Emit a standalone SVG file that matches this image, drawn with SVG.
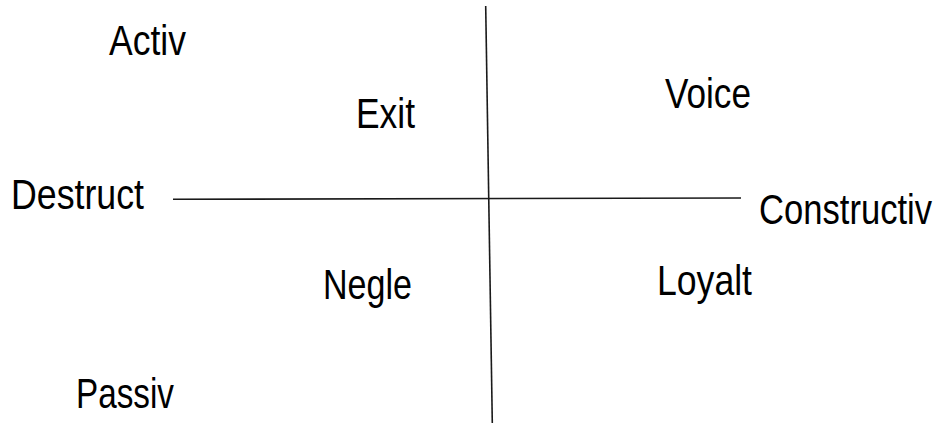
<svg xmlns="http://www.w3.org/2000/svg" width="937" height="425" viewBox="0 0 937 425">
<style>
.lbl{font-family:"Liberation Sans",Arial,sans-serif;font-size:43px;fill:#000}
.ax{stroke:#1a1a1a;stroke-width:1.6;fill:none}
</style>
<rect width="937" height="425" fill="#fff"/>
<g id="connectors">
<line class="ax" x1="485.7" y1="6" x2="492.3" y2="423"/>
<line class="ax" x1="173" y1="199.3" x2="741" y2="198"/>
</g>
<g id="activ"><text class="lbl" x="109" y="55" textLength="77" lengthAdjust="spacingAndGlyphs">Activ</text></g>
<g id="exit"><text class="lbl" x="356" y="128" textLength="59" lengthAdjust="spacingAndGlyphs">Exit</text></g>
<g id="destruct"><text class="lbl" x="11" y="209" textLength="133" lengthAdjust="spacingAndGlyphs">Destruct</text></g>
<g id="voice"><text class="lbl" x="665" y="108" textLength="86" lengthAdjust="spacingAndGlyphs">Voice</text></g>
<g id="constructiv"><text class="lbl" transform="translate(759 224) scale(0.805 1)" x="0" y="0">Constructiv</text></g>
<g id="loyalt"><text class="lbl" x="657" y="295" textLength="95" lengthAdjust="spacingAndGlyphs">Loyalt</text></g>
<g id="negle"><text class="lbl" x="323" y="298.5" textLength="89" lengthAdjust="spacingAndGlyphs">Negle</text></g>
<g id="passiv"><text class="lbl" x="76" y="408" textLength="98" lengthAdjust="spacingAndGlyphs">Passiv</text></g>
</svg>
